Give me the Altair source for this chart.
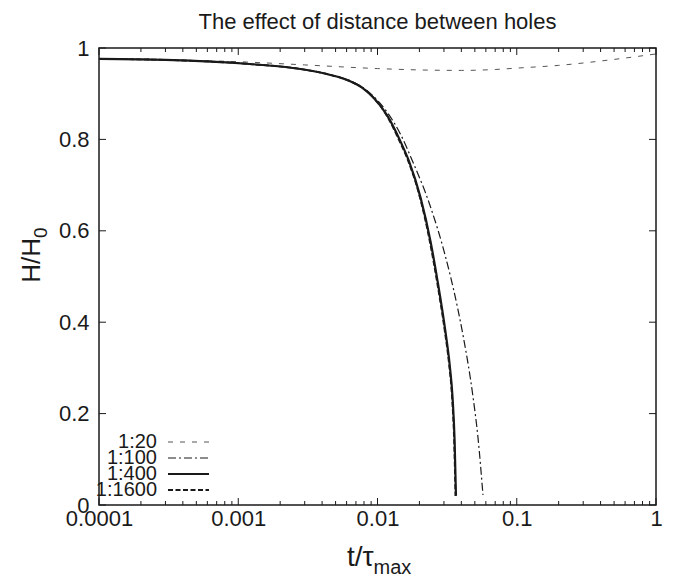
import altair as alt
import pandas as pd

# ---------------- data ----------------
title_text = "The effect of distance between holes"
series_labels = ["1:20", "1:100", "1:400", "1:1600"]

t_20 = [1e-4, 3e-4, 1e-3, 3e-3, 0.01, 0.02, 0.04, 0.07, 0.1, 0.2, 0.5, 1.0]
h_20 = [0.976, 0.974, 0.970, 0.963, 0.955, 0.952, 0.951, 0.953, 0.956, 0.962, 0.975, 0.987]

t_100 = [1e-4, 3e-4, 0.0012, 0.0028, 0.0046, 0.0063, 0.0077, 0.0093, 0.0117, 0.0147,
         0.0177, 0.0238, 0.0305, 0.0372, 0.0411, 0.0485, 0.0527, 0.0572]
h_100 = [0.976, 0.974, 0.965, 0.954, 0.941, 0.929, 0.915, 0.895, 0.860, 0.810,
         0.755, 0.656, 0.548, 0.438, 0.372, 0.237, 0.147, 0.022]

t_400 = [1e-4, 3e-4, 0.0012, 0.0028, 0.0046, 0.0063, 0.0077, 0.0093, 0.0117, 0.0147,
         0.0168, 0.0204, 0.0241, 0.0270, 0.0308, 0.0329, 0.0346, 0.0358, 0.0366]
h_400 = [0.976, 0.974, 0.965, 0.954, 0.941, 0.928, 0.914, 0.892, 0.853, 0.794,
         0.753, 0.672, 0.575, 0.490, 0.378, 0.310, 0.235, 0.14, 0.02]

t_1600 = [1e-4, 3e-4, 0.0012, 0.0028, 0.0046, 0.0063, 0.0077, 0.0093, 0.0116, 0.0145,
          0.0166, 0.0202, 0.0238, 0.0267, 0.0305, 0.0326, 0.0343, 0.0355, 0.0363]
h_1600 = [0.976, 0.974, 0.965, 0.954, 0.941, 0.928, 0.914, 0.892, 0.853, 0.794,
          0.753, 0.672, 0.575, 0.490, 0.378, 0.310, 0.235, 0.14, 0.02]

x_ticks = [0.0001, 0.001, 0.01, 0.1, 1]
x_minor = [k * d for d in [0.0001, 0.001, 0.01, 0.1] for k in range(2, 10)]
y_ticks = [0, 0.2, 0.4, 0.6, 0.8, 1]

# ---------------- layout ----------------
W, H = 557, 457
FONT = "Liberation Sans"
INK = "#1a1a1a"

xscale = alt.Scale(type="log", domain=[1e-4, 1])
yscale = alt.Scale(domain=[0, 1])
xaxis = alt.Axis(values=x_ticks, format="~g", title=None, grid=False, ticks=False, tickSize=0,
                 domain=False, labelFlush=False, labelFontSize=22, labelFont=FONT,
                 labelColor=INK, labelPadding=3, labelBaseline="top")
yaxis = alt.Axis(values=y_ticks, format="~g", title=None, grid=False, ticks=False, tickSize=0,
                 domain=False, labelFlush=False, labelFontSize=22, labelFont=FONT,
                 labelColor=INK, labelPadding=10)


def X(field):
    return alt.X(f"{field}:Q", scale=xscale, axis=xaxis)


def Y(field):
    return alt.Y(f"{field}:Q", scale=yscale, axis=yaxis)


def curve(ts, hs, dash, width, color):
    df = pd.DataFrame({"t": ts, "h": hs})
    kw = dict(strokeWidth=width, color=color, clip=True, interpolate="monotone")
    if dash:
        kw["strokeDash"] = dash
    return alt.Chart(df).mark_line(**kw).encode(x=X("t"), y=Y("h"))


styles = [
    ([5, 7], 1.0, "#555555"),
    ([8, 3, 2, 3], 1.2, INK),
    (None, 2.2, INK),
    ([5, 2.5], 1.8, INK),
]
series = [(t_20, h_20), (t_100, h_100), (t_400, h_400), (t_1600, h_1600)]

layers = []
for (ts, hs), (dash, width, color) in zip(series, styles):
    layers.append(curve(ts, hs, dash, width, color))

# inward ticks (gnuplot style), on all four sides
xmaj = pd.DataFrame({"t": x_ticks})
xmin = pd.DataFrame({"t": x_minor})
ytk = pd.DataFrame({"v": y_ticks})
tick_kw = dict(color=INK, strokeWidth=1)
layers += [
    alt.Chart(xmaj).mark_rule(**tick_kw).encode(x=X("t"), y=alt.value(H), y2=alt.value(H - 7)),
    alt.Chart(xmaj).mark_rule(**tick_kw).encode(x=X("t"), y=alt.value(0), y2=alt.value(7)),
    alt.Chart(xmin).mark_rule(**tick_kw).encode(x=X("t"), y=alt.value(H), y2=alt.value(H - 4)),
    alt.Chart(xmin).mark_rule(**tick_kw).encode(x=X("t"), y=alt.value(0), y2=alt.value(4)),
    alt.Chart(ytk).mark_rule(**tick_kw).encode(y=Y("v"), x=alt.value(0), x2=alt.value(7)),
    alt.Chart(ytk).mark_rule(**tick_kw).encode(y=Y("v"), x=alt.value(W), x2=alt.value(W - 7)),
]

# legend (gnuplot style: label right-aligned, then line sample)
legend_y = [394, 410, 426, 442]
for lab, ly, (dash, width, color) in zip(series_labels, legend_y, styles):
    d = pd.DataFrame({"label": [lab]})
    layers.append(
        alt.Chart(d).mark_text(align="right", baseline="middle", fontSize=20, font=FONT, color=INK)
        .encode(text="label:N", x=alt.value(58), y=alt.value(ly))
    )
    kw = dict(strokeWidth=width, color=color)
    if dash:
        kw["strokeDash"] = dash
    layers.append(
        alt.Chart(d).mark_rule(**kw)
        .encode(x=alt.value(69), x2=alt.value(110), y=alt.value(ly))
    )

# title
layers.append(
    alt.Chart(pd.DataFrame({"s": [title_text]}))
    .mark_text(align="center", baseline="alphabetic", fontSize=22, font=FONT, color=INK)
    .encode(text="s:N", x=alt.value(W / 2), y=alt.value(-19))
)

# x axis title t/τ_max
layers.append(
    alt.Chart(pd.DataFrame({"s": ["t/τ"]}))
    .mark_text(align="right", baseline="alphabetic", fontSize=28, font=FONT, color=INK)
    .encode(text="s:N", x=alt.value(W / 2 - 4), y=alt.value(518))
)
layers.append(
    alt.Chart(pd.DataFrame({"s": ["max"]}))
    .mark_text(align="left", baseline="alphabetic", fontSize=20, font=FONT, color=INK)
    .encode(text="s:N", x=alt.value(W / 2 - 4), y=alt.value(526))
)

# y axis title H/H_0
layers.append(
    alt.Chart(pd.DataFrame({"s": ["H/H"]}))
    .mark_text(align="right", baseline="alphabetic", fontSize=26, font=FONT, color=INK, angle=270)
    .encode(text="s:N", x=alt.value(-59), y=alt.value(190))
)
layers.append(
    alt.Chart(pd.DataFrame({"s": ["0"]}))
    .mark_text(align="left", baseline="alphabetic", fontSize=19, font=FONT, color=INK, angle=270)
    .encode(text="s:N", x=alt.value(-52), y=alt.value(190))
)

chart = (
    alt.layer(*layers)
    .properties(
        width=W,
        height=H,
        padding={"left": 91, "top": 40, "right": 16, "bottom": 77},
        autosize=alt.AutoSizeParams(type="none"),
        background="white",
    )
    .configure_view(stroke=INK, strokeWidth=1.5)
)

chart.save("out.html", embed_options={"renderer": "svg", "actions": False})
